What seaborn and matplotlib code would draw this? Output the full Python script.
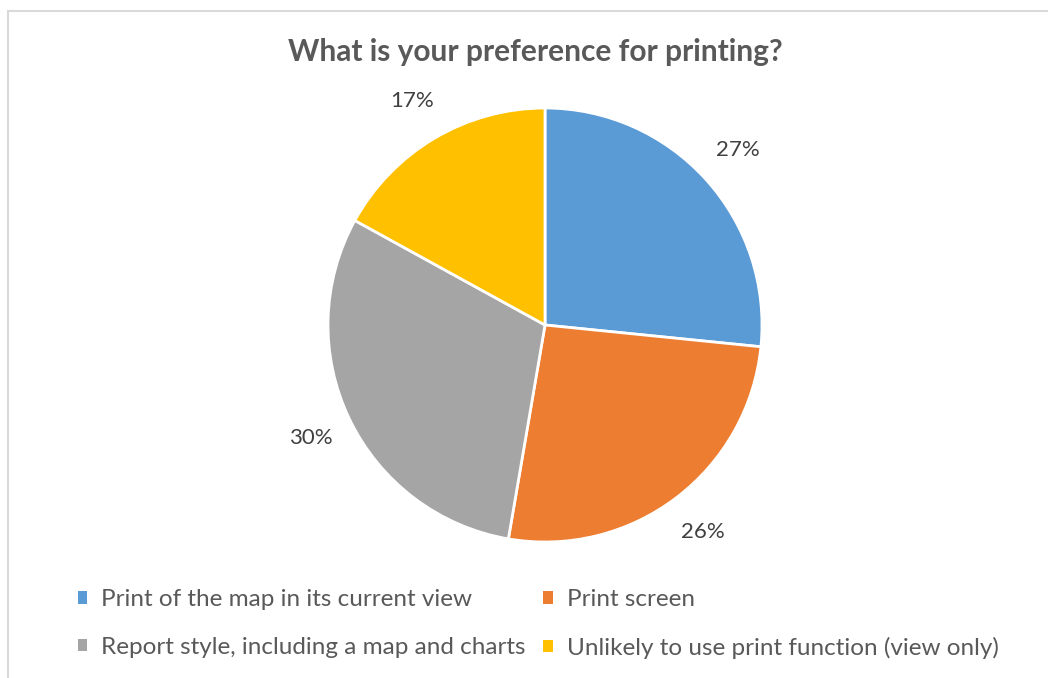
import matplotlib
matplotlib.use("Agg")
import matplotlib.pyplot as plt
from matplotlib.patches import Rectangle, Patch
import seaborn as sns

# data (shares; labels show the rounded values)
labels = ['Print of the map in its current view', 'Print screen',
          'Report style, including a map and charts', 'Unlikely to use print function (view only)']
values = [26.6, 26.1, 30.3, 17.0]
colors = ['#5B9BD5', '#ED7D31', '#A5A5A5', '#FFC000']

sns.set_theme(style="white")
plt.rcParams['font.family'] = ['Lato', 'DejaVu Sans']

W, H = 1048, 678
fig = plt.figure(figsize=(W / 100, H / 100), dpi=100)

# chart frame (only left/top visible in the crop)
fig.patches.append(Rectangle((7.5 / W, -0.2), 2, 1.2 - 11 / H, transform=fig.transFigure,
                             fill=False, edgecolor='#D9D9D9', linewidth=1.5))

cx, cy, r = 545, 325, 217
ax = fig.add_axes([(cx - r) / W, (H - cy - r) / H, 2 * r / W, 2 * r / H])

wedges, texts, autotexts = ax.pie(values, colors=sns.color_palette(colors), startangle=90,
                                  counterclock=False, autopct='%1.0f%%', pctdistance=1.2,
                                  wedgeprops={'edgecolor': 'white', 'linewidth': 2},
                                  textprops={'fontsize': 16, 'color': '#404040'})
ax.set_aspect('equal')
ax.set_xlim(-1, 1)
ax.set_ylim(-1, 1)
ax.axis('off')

fig.text(535 / W, 1 - 52 / H, 'What is your preference for printing?', ha='center', va='center',
         fontsize=21.5, fontweight='bold', color='#595959')

order = [0, 2, 1, 3]
handles = [Patch(facecolor=colors[i], edgecolor='none') for i in order]
fig.legend(handles, [labels[i] for i in order], ncol=2, loc='center',
           bbox_to_anchor=(538 / W, 1 - 624 / H), frameon=False, fontsize=17.5,
           labelcolor='#595959', handlelength=0.4, handleheight=0.4, handletextpad=0.55,
           columnspacing=0.75, labelspacing=1.1, borderpad=0)

fig.savefig('out.png', dpi=100, facecolor='white')
